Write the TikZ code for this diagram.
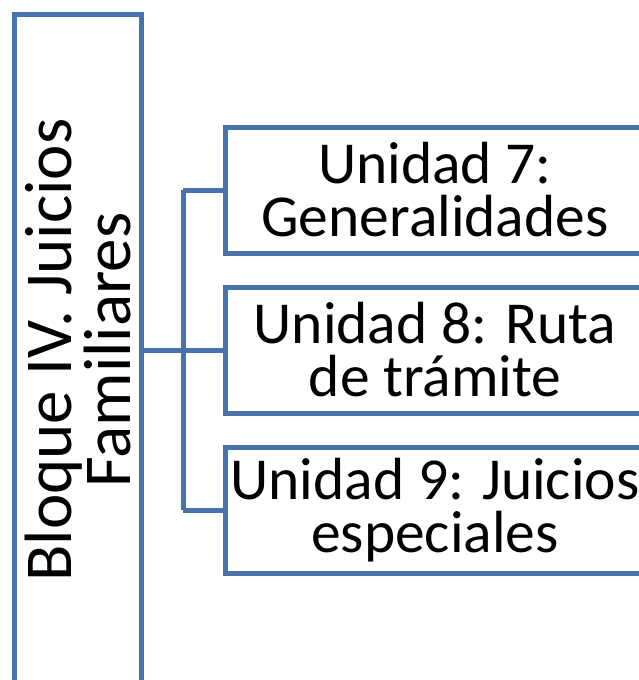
\documentclass[tikz,border=0pt]{standalone}
\usepackage{fontspec}
\setmainfont{Carlito}
\usepackage{xcolor}
\usepackage{tikz}
\usetikzlibrary{positioning}

\definecolor{bloqueblue}{RGB}{71,114,170}

\begin{document}
\begin{tikzpicture}[x=1pt,y=-1pt,line width=5pt,
    unitbox/.style={draw=bloqueblue,rectangle,align=center,inner sep=0pt,
      minimum width=420pt,minimum height=126pt,
      font=\fontsize{59.5}{53}\selectfont},
    link/.style={draw=bloqueblue}]

\useasboundingbox (0,0) rectangle (639,680);
\clip (0,0) rectangle (639,680);

\node[unitbox,rotate=90,minimum width=672pt,minimum height=127pt,
      font=\fontsize{67}{59}\selectfont]
      (bloque) at (77.5,350) {Bloque IV. Juicios\\Familiares};

\node[unitbox] (u7) at (435,190) {Unidad 7:\\Generalidades};
\node[unitbox] (u8) at (435,350) {Unidad 8: Ruta\\de tr\'amite};
\node[unitbox] (u9) at (435,510) {Unidad 9: Juicios\\especiales};

% rotated node: its south side is the right edge
\coordinate (jn) at (183,350);
\path[link] (bloque.south) -- (jn);
\path[link] (jn |- u7.west) -- (jn |- u9.west);
\path[link] (jn |- u7.west) -- (u7.west);
\path[link] (jn) -- (u8.west);
\path[link] (jn |- u9.west) -- (u9.west);

\end{tikzpicture}
\end{document}
